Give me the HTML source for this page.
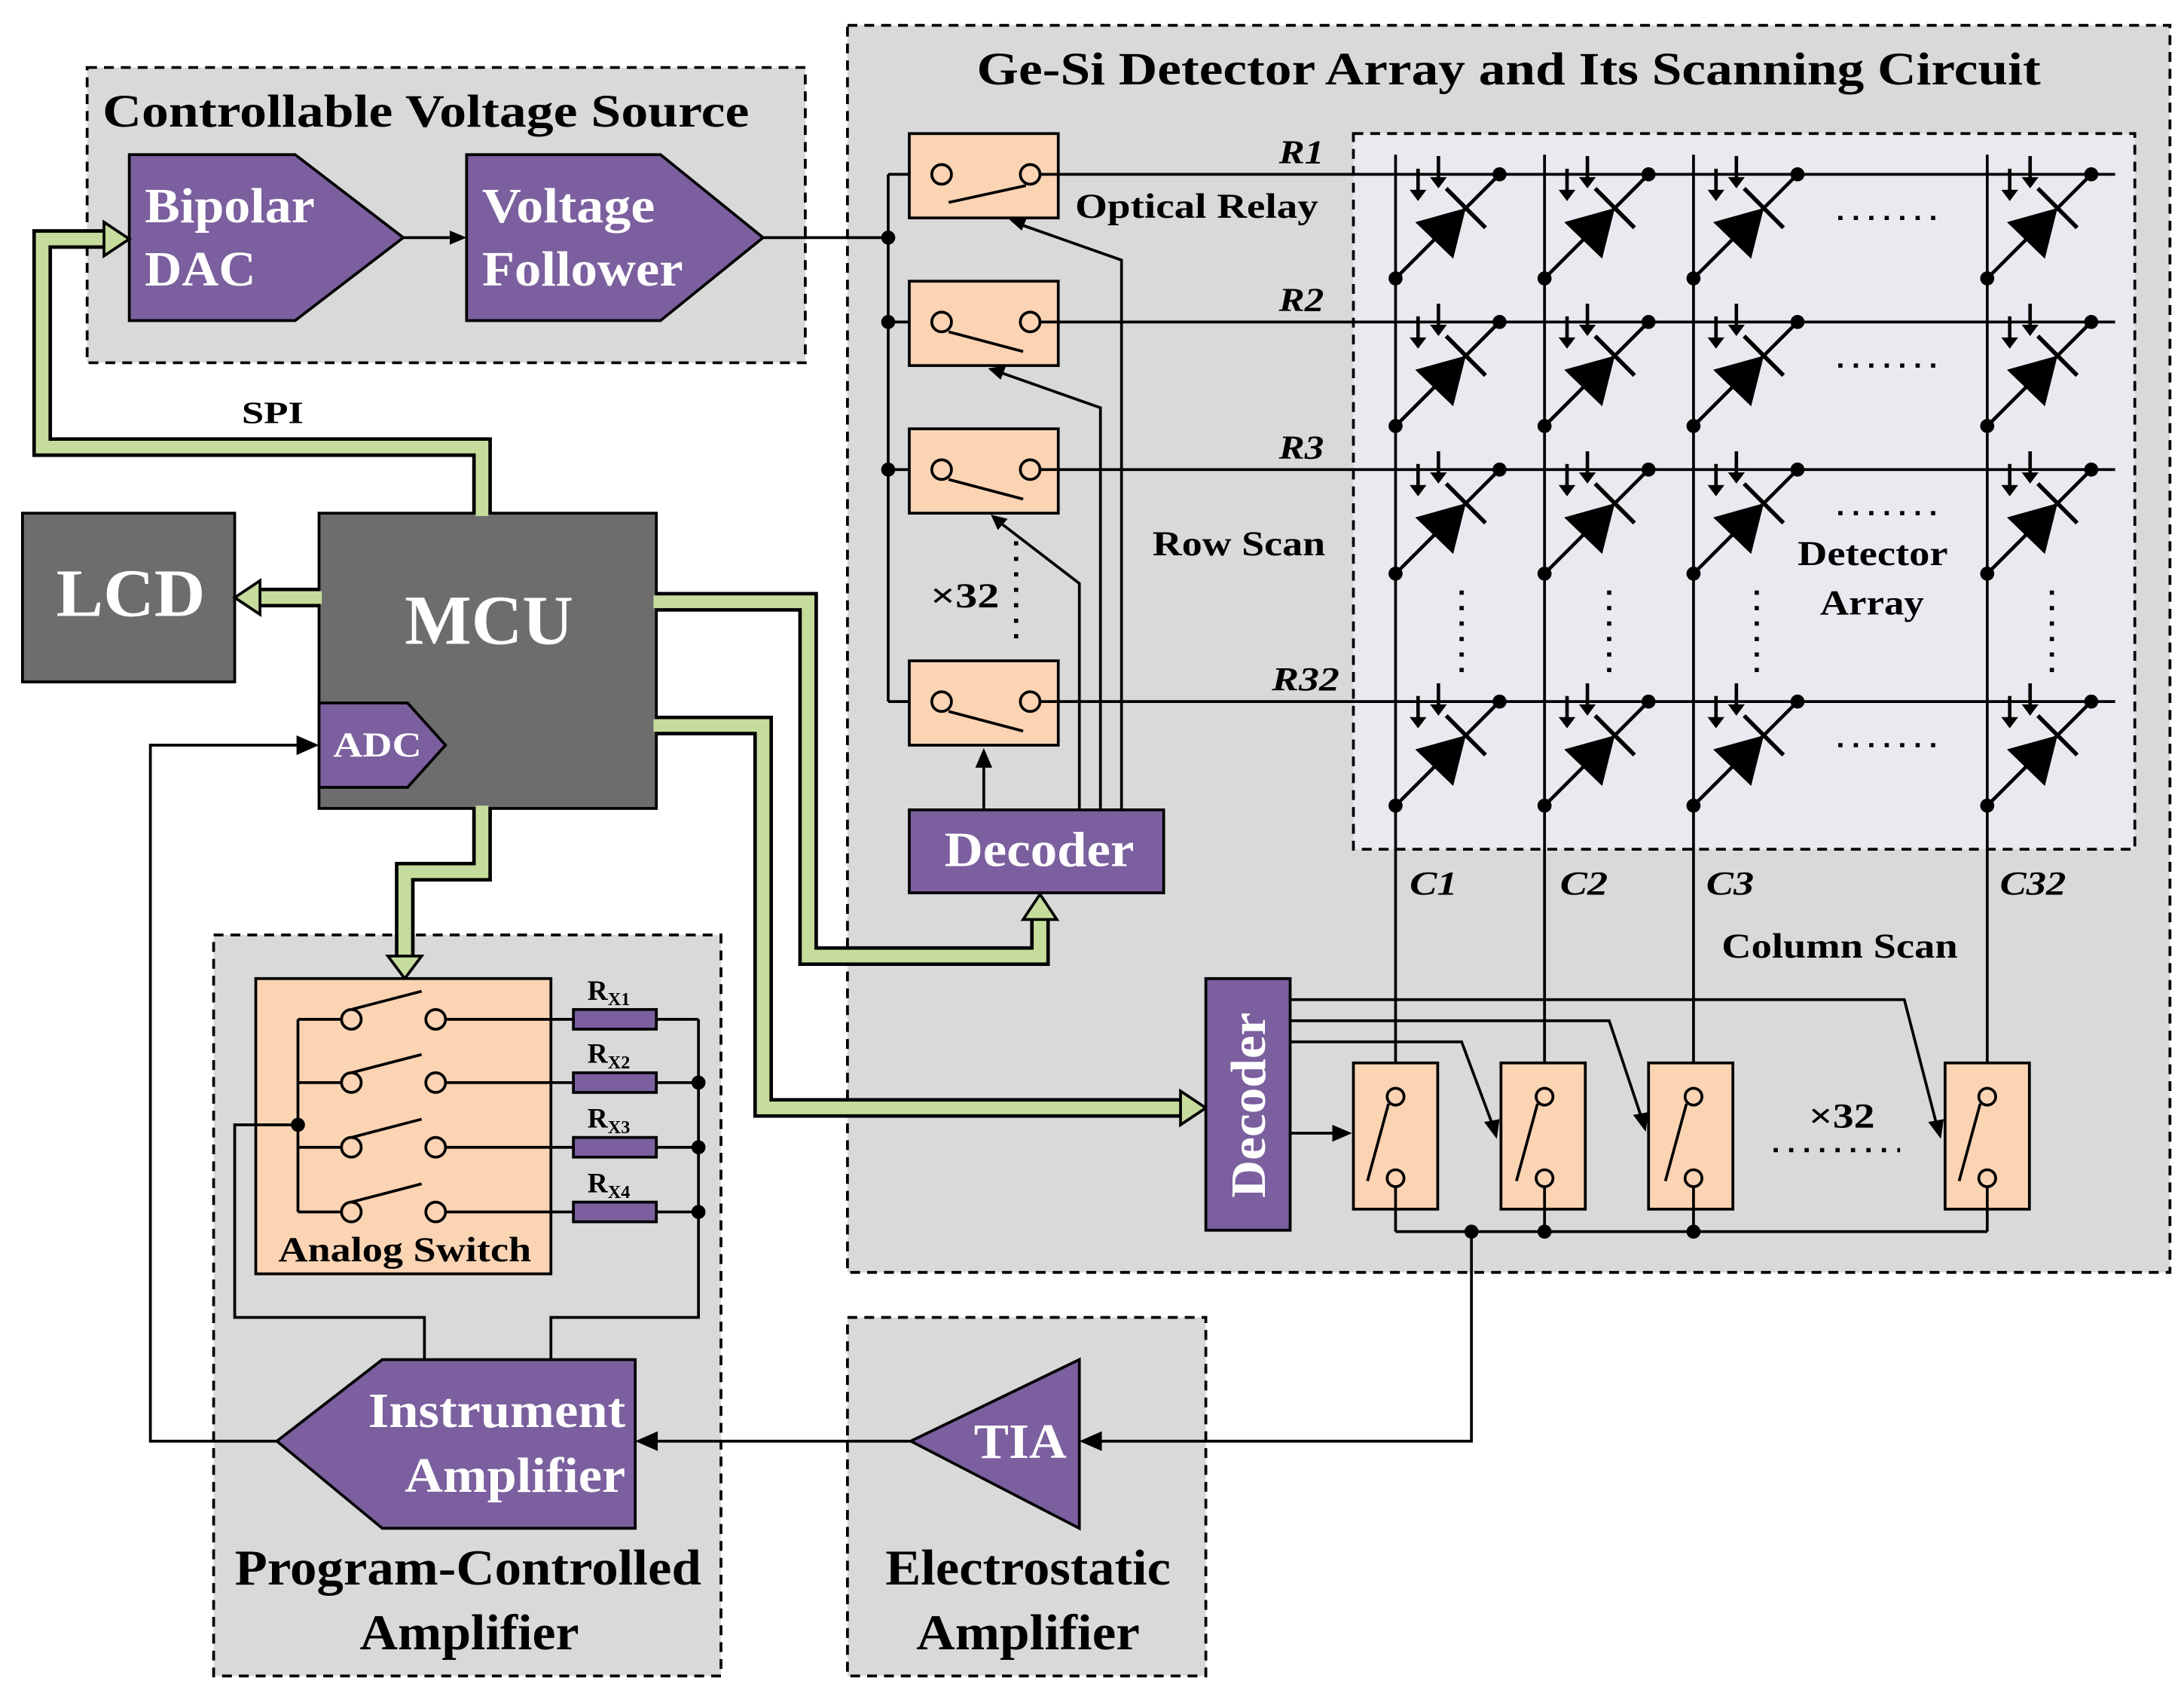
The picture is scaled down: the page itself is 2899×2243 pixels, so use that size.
<!DOCTYPE html>
<html><head><meta charset="utf-8"><style>
html,body{margin:0;padding:0;background:#fff}
svg{display:block}
text{font-family:"Liberation Serif",serif;font-weight:bold}
</style></head><body>
<svg width="2899" height="2243" viewBox="0 0 1554 1202" preserveAspectRatio="none" xmlns="http://www.w3.org/2000/svg">
<defs>
<g id="dio">
 <line x1="0" y1="74" x2="74" y2="0" stroke="#000" stroke-width="2.5"/>
 <circle cx="0" cy="74" r="5"/><circle cx="74" cy="0" r="5"/>
 <polygon points="14,34 50,24 41,60"/>
 <line x1="36" y1="10" x2="64" y2="38" stroke="#000" stroke-width="3"/>
</g>
<g id="arr2">
 <line x1="16" y1="-4" x2="16" y2="12" stroke="#000" stroke-width="2.5"/>
 <polygon points="10,11 22,11 16,19"/>
 <line x1="30.5" y1="-13" x2="30.5" y2="3" stroke="#000" stroke-width="2.5"/>
 <polygon points="24.5,2 36.5,2 30.5,10"/>
</g>
</defs>
<rect width="1554" height="1202" fill="#fff"/>

<rect x="62" y="48" width="511" height="210" fill="#d9d9d9" stroke="#000" stroke-width="2" stroke-dasharray="7,5"/>
<text x="73" y="90" font-size="33" textLength="460" lengthAdjust="spacingAndGlyphs">Controllable Voltage Source</text>
<rect x="603" y="18" width="941" height="887" fill="#d9d9d9" stroke="#000" stroke-width="2" stroke-dasharray="7,5"/>
<text x="695" y="60" font-size="33" textLength="757" lengthAdjust="spacingAndGlyphs">Ge-Si Detector Array and Its Scanning Circuit</text>
<rect x="963" y="95" width="556" height="509" fill="#ebe9f0" stroke="#000" stroke-width="2" stroke-dasharray="7,5"/>
<rect x="152" y="665" width="361" height="527" fill="#d9d9d9" stroke="#000" stroke-width="2" stroke-dasharray="7,5"/>
<rect x="603" y="937" width="255" height="255" fill="#d9d9d9" stroke="#000" stroke-width="2" stroke-dasharray="7,5"/>
<text x="167" y="1127" font-size="36" textLength="332" lengthAdjust="spacingAndGlyphs">Program-Controlled</text>
<text x="256" y="1173" font-size="36" textLength="156" lengthAdjust="spacingAndGlyphs">Amplifier</text>
<text x="630" y="1127" font-size="36" textLength="203" lengthAdjust="spacingAndGlyphs">Electrostatic</text>
<text x="652" y="1173" font-size="36" textLength="159" lengthAdjust="spacingAndGlyphs">Amplifier</text>

<polygon points="92,110 210,110 287,169 210,228 92,228" fill="#7b5f9e" stroke="#000" stroke-width="2"/>
<text x="103" y="158" font-size="35" fill="#fff" textLength="121" lengthAdjust="spacingAndGlyphs">Bipolar</text>
<text x="103" y="203" font-size="35" fill="#fff" textLength="79" lengthAdjust="spacingAndGlyphs">DAC</text>
<line x1="287" y1="169" x2="322" y2="169" stroke="#000" stroke-width="2"/>
<polygon points="332,169 320,164 320,174"/>
<polygon points="332,110 470,110 543,169 470,228 332,228" fill="#7b5f9e" stroke="#000" stroke-width="2"/>
<text x="343" y="158" font-size="35" fill="#fff" textLength="123" lengthAdjust="spacingAndGlyphs">Voltage</text>
<text x="343" y="203" font-size="35" fill="#fff" textLength="143" lengthAdjust="spacingAndGlyphs">Follower</text>
<line x1="543" y1="169" x2="632" y2="169" stroke="#000" stroke-width="2"/>

<rect x="16" y="365" width="151" height="120" fill="#6d6d6d" stroke="#000" stroke-width="2"/>
<text x="40" y="438" font-size="48" fill="#fff" textLength="106" lengthAdjust="spacingAndGlyphs">LCD</text>
<rect x="227" y="365" width="240" height="210" fill="#6d6d6d" stroke="#000" stroke-width="2"/>
<text x="288" y="458" font-size="50" fill="#fff" textLength="120" lengthAdjust="spacingAndGlyphs">MCU</text>
<polygon points="227,500 290,500 317,530 290,560 227,560" fill="#7b5f9e" stroke="#000" stroke-width="2"/>
<text x="237" y="538" font-size="25" fill="#fff" textLength="63" lengthAdjust="spacingAndGlyphs">ADC</text>

<g fill="none" stroke-linejoin="miter">
<g stroke="#000" stroke-width="14">
 <path d="M343,365 V318 H30 V170 H75"/>
 <path d="M227,425 H185"/>
 <path d="M467,428 H575 V680 H740 V653"/>
 <path d="M467,516 H543 V788 H840"/>
 <path d="M343,575 V620 H288 V680"/>
</g>
<g stroke="#c5dc9c" stroke-width="9">
 <path d="M343,367 V318 H30 V170 H77"/>
 <path d="M229,425 H183"/>
 <path d="M465,428 H575 V680 H740 V651"/>
 <path d="M465,516 H543 V788 H842"/>
 <path d="M343,573 V620 H288 V682"/>
</g>
</g>
<g fill="#c5dc9c" stroke="#000" stroke-width="2">
 <polygon points="74,158 92,170 74,182"/>
 <polygon points="185,413 167,425 185,437"/>
 <polygon points="728,654 740,636 752,654"/>
 <polygon points="840,776 858,788 840,800"/>
 <polygon points="276,680 288,696 300,680"/>
</g>
<text x="172" y="301" font-size="22" textLength="44" lengthAdjust="spacingAndGlyphs">SPI</text>

<g stroke="#000" stroke-width="2">
<line x1="632" y1="124" x2="632" y2="499"/>
<line x1="632" y1="124" x2="660" y2="124"/>
<line x1="632" y1="229" x2="660" y2="229"/>
<line x1="632" y1="334" x2="660" y2="334"/>
<line x1="632" y1="499" x2="660" y2="499"/>
</g>
<g fill="#fbd4b4" stroke="#000" stroke-width="2">
<rect x="647" y="95" width="106" height="60"/>
<rect x="647" y="200" width="106" height="60"/>
<rect x="647" y="305" width="106" height="60"/>
<rect x="647" y="470" width="106" height="60"/>
</g>
<g fill="#fbd4b4" stroke="#000" stroke-width="2">
<circle cx="670" cy="124" r="7"/><circle cx="733" cy="124" r="7"/><line x1="675" y1="144" x2="730" y2="132"/>
<circle cx="670" cy="229" r="7"/><circle cx="733" cy="229" r="7"/><line x1="675" y1="236" x2="728" y2="250"/>
<circle cx="670" cy="334" r="7"/><circle cx="733" cy="334" r="7"/><line x1="675" y1="341" x2="728" y2="355"/>
<circle cx="670" cy="499" r="7"/><circle cx="733" cy="499" r="7"/><line x1="675" y1="506" x2="728" y2="520"/>
</g>
<g fill="#000"><circle cx="632" cy="169" r="5"/><circle cx="632" cy="229" r="5"/><circle cx="632" cy="334" r="5"/></g>
<text x="765" y="155" font-size="25" textLength="173" lengthAdjust="spacingAndGlyphs">Optical Relay</text>
<text x="820" y="395" font-size="25" textLength="123" lengthAdjust="spacingAndGlyphs">Row Scan</text>
<text x="662" y="432" font-size="25" textLength="49" lengthAdjust="spacingAndGlyphs">×32</text>
<line x1="723" y1="385" x2="723" y2="460" stroke="#000" stroke-width="3" stroke-dasharray="3,8"/>
<rect x="647" y="576" width="181" height="59" fill="#7b5f9e" stroke="#000" stroke-width="2"/>
<text x="672" y="616" font-size="35" fill="#fff" textLength="135" lengthAdjust="spacingAndGlyphs">Decoder</text>
<g stroke="#000" stroke-width="2" fill="none">
<line x1="700" y1="576" x2="700" y2="545"/>
<path d="M768,576 V415 L712,372"/>
<path d="M783,576 V290 L712,265"/>
<path d="M798,576 V185 L727,160"/>
</g>
<g fill="#000">
<polygon points="694,546 706,546 700,532"/>
<polygon points="705,366 717,369 710,377"/>
<polygon points="703,262 716,260 712,270"/>
<polygon points="718,156 731,154 727,164"/>
</g>

<g stroke="#000" stroke-width="2">
<line x1="740" y1="124" x2="1505" y2="124"/>
<line x1="740" y1="229" x2="1505" y2="229"/>
<line x1="740" y1="334" x2="1505" y2="334"/>
<line x1="740" y1="499" x2="1505" y2="499"/>
<line x1="993" y1="110" x2="993" y2="780"/>
<line x1="1099" y1="110" x2="1099" y2="780"/>
<line x1="1205" y1="110" x2="1205" y2="780"/>
<line x1="1414" y1="110" x2="1414" y2="780"/>
</g>
<g font-size="24" font-style="italic">
<text x="910" y="116" textLength="32" lengthAdjust="spacingAndGlyphs">R1</text><text x="910" y="221" textLength="32" lengthAdjust="spacingAndGlyphs">R2</text><text x="910" y="326" textLength="32" lengthAdjust="spacingAndGlyphs">R3</text><text x="905" y="491" textLength="48" lengthAdjust="spacingAndGlyphs">R32</text>
<text x="1003" y="636" textLength="34" lengthAdjust="spacingAndGlyphs">C1</text><text x="1110" y="636" textLength="34" lengthAdjust="spacingAndGlyphs">C2</text><text x="1214" y="636" textLength="34" lengthAdjust="spacingAndGlyphs">C3</text><text x="1423" y="636" textLength="47" lengthAdjust="spacingAndGlyphs">C32</text>
</g>
<g>
<use href="#dio" x="993" y="124"/><use href="#dio" x="1099" y="124"/><use href="#dio" x="1205" y="124"/><use href="#dio" x="1414" y="124"/>
<use href="#dio" x="993" y="229"/><use href="#dio" x="1099" y="229"/><use href="#dio" x="1205" y="229"/><use href="#dio" x="1414" y="229"/>
<use href="#dio" x="993" y="334"/><use href="#dio" x="1099" y="334"/><use href="#dio" x="1205" y="334"/><use href="#dio" x="1414" y="334"/>
<use href="#dio" x="993" y="499"/><use href="#dio" x="1099" y="499"/><use href="#dio" x="1205" y="499"/><use href="#dio" x="1414" y="499"/>
</g>
<g>
<use href="#arr2" x="993" y="124"/><use href="#arr2" x="1099" y="124"/><use href="#arr2" x="1205" y="124"/><use href="#arr2" x="1414" y="124"/>
<use href="#arr2" x="993" y="229"/><use href="#arr2" x="1099" y="229"/><use href="#arr2" x="1205" y="229"/><use href="#arr2" x="1414" y="229"/>
<use href="#arr2" x="993" y="334"/><use href="#arr2" x="1099" y="334"/><use href="#arr2" x="1205" y="334"/><use href="#arr2" x="1414" y="334"/>
<use href="#arr2" x="993" y="499"/><use href="#arr2" x="1099" y="499"/><use href="#arr2" x="1205" y="499"/><use href="#arr2" x="1414" y="499"/>
</g>
<g stroke="#000" stroke-width="3" stroke-dasharray="3,8">
<line x1="1308" y1="155" x2="1385" y2="155"/>
<line x1="1308" y1="260" x2="1385" y2="260"/>
<line x1="1308" y1="365" x2="1385" y2="365"/>
<line x1="1308" y1="530" x2="1385" y2="530"/>
<line x1="1040" y1="420" x2="1040" y2="485"/>
<line x1="1145" y1="420" x2="1145" y2="485"/>
<line x1="1250" y1="420" x2="1250" y2="485"/>
<line x1="1460" y1="420" x2="1460" y2="485"/>
<line x1="1262" y1="818" x2="1352" y2="818"/>
</g>
<text x="1279" y="402" font-size="25" textLength="107" lengthAdjust="spacingAndGlyphs">Detector</text>
<text x="1295" y="437" font-size="25" textLength="74" lengthAdjust="spacingAndGlyphs">Array</text>
<text x="1225" y="681" font-size="25" textLength="168" lengthAdjust="spacingAndGlyphs">Column Scan</text>

<rect x="858" y="696" width="60" height="179" fill="#7b5f9e" stroke="#000" stroke-width="2"/>
<text transform="translate(900,852) rotate(-90)" font-size="35" fill="#fff" textLength="132" lengthAdjust="spacingAndGlyphs">Decoder</text>
<g stroke="#000" stroke-width="2" fill="none">
<path d="M918,711 H1355 L1378,800"/>
<path d="M918,726 H1145 L1168,795"/>
<path d="M918,741 H1040 L1062,800"/>
<line x1="918" y1="806" x2="950" y2="806"/>
</g>
<g fill="#000">
<polygon points="1372,798 1383,796 1381,810"/>
<polygon points="1162,793 1173,791 1171,805"/>
<polygon points="1056,798 1067,796 1065,810"/>
<polygon points="948,800 948,812 962,806"/>
</g>
<g fill="#fbd4b4" stroke="#000" stroke-width="2">
<rect x="963" y="756" width="60" height="104"/>
<rect x="1068" y="756" width="60" height="104"/>
<rect x="1173" y="756" width="60" height="104"/>
<rect x="1384" y="756" width="60" height="104"/>
<circle cx="993" cy="780" r="6"/><circle cx="993" cy="838" r="6"/><line x1="973" y1="840" x2="988" y2="785"/>
<circle cx="1099" cy="780" r="6"/><circle cx="1099" cy="838" r="6"/><line x1="1079" y1="840" x2="1094" y2="785"/>
<circle cx="1205" cy="780" r="6"/><circle cx="1205" cy="838" r="6"/><line x1="1185" y1="840" x2="1200" y2="785"/>
<circle cx="1414" cy="780" r="6"/><circle cx="1414" cy="838" r="6"/><line x1="1394" y1="840" x2="1409" y2="785"/>
</g>
<text x="1287" y="802" font-size="25" textLength="47" lengthAdjust="spacingAndGlyphs">×32</text>
<g stroke="#000" stroke-width="2" fill="none">
<line x1="993" y1="844" x2="993" y2="876"/><line x1="1099" y1="844" x2="1099" y2="876"/>
<line x1="1205" y1="844" x2="1205" y2="876"/><line x1="1414" y1="844" x2="1414" y2="876"/>
<line x1="993" y1="876" x2="1414" y2="876"/>
<path d="M1047,876 V1025 H782"/>
</g>
<g fill="#000"><circle cx="1047" cy="876" r="5"/><circle cx="1099" cy="876" r="5"/><circle cx="1205" cy="876" r="5"/>
<polygon points="768,1025 784,1018 784,1032"/></g>

<polygon points="648,1025 768,967 768,1087" fill="#7b5f9e" stroke="#000" stroke-width="2"/>
<text x="693" y="1037" font-size="35" fill="#fff" textLength="66" lengthAdjust="spacingAndGlyphs">TIA</text>
<line x1="648" y1="1025" x2="466" y2="1025" stroke="#000" stroke-width="2"/>
<polygon points="452,1025 468,1018 468,1032"/>

<polygon points="197,1025 272,967 452,967 452,1087 272,1087" fill="#7b5f9e" stroke="#000" stroke-width="2"/>
<text x="262" y="1015" font-size="35" fill="#fff" textLength="183" lengthAdjust="spacingAndGlyphs">Instrument</text>
<text x="288" y="1061" font-size="35" fill="#fff" textLength="157" lengthAdjust="spacingAndGlyphs">Amplifier</text>
<path d="M197,1025 H107 V530 H213" fill="none" stroke="#000" stroke-width="2"/>
<polygon points="227,530 211,523 211,537"/>

<rect x="182" y="696" width="210" height="210" fill="#fbd4b4" stroke="#000" stroke-width="2"/>
<text x="198" y="897" font-size="25" textLength="180" lengthAdjust="spacingAndGlyphs">Analog Switch</text>
<g stroke="#000" stroke-width="2" fill="none">
<line x1="212" y1="725" x2="212" y2="862"/>
<path d="M212,800 H167 V937 H302 V967"/>
<path d="M497,725 V937 H392 V967"/>
<line x1="212" y1="725" x2="243" y2="725"/><line x1="212" y1="770" x2="243" y2="770"/>
<line x1="212" y1="816" x2="243" y2="816"/><line x1="212" y1="862" x2="243" y2="862"/>
<line x1="317" y1="725" x2="497" y2="725"/><line x1="317" y1="770" x2="497" y2="770"/>
<line x1="317" y1="816" x2="497" y2="816"/><line x1="317" y1="862" x2="497" y2="862"/>
<line x1="250" y1="718" x2="300" y2="705"/><line x1="250" y1="763" x2="300" y2="750"/>
<line x1="250" y1="809" x2="300" y2="796"/><line x1="250" y1="855" x2="300" y2="842"/>
</g>
<g fill="#fbd4b4" stroke="#000" stroke-width="2">
<circle cx="250" cy="725" r="7"/><circle cx="310" cy="725" r="7"/>
<circle cx="250" cy="770" r="7"/><circle cx="310" cy="770" r="7"/>
<circle cx="250" cy="816" r="7"/><circle cx="310" cy="816" r="7"/>
<circle cx="250" cy="862" r="7"/><circle cx="310" cy="862" r="7"/>
</g>
<g fill="#7b5f9e" stroke="#000" stroke-width="2">
<rect x="408" y="718" width="59" height="14"/><rect x="408" y="763" width="59" height="14"/>
<rect x="408" y="809" width="59" height="14"/><rect x="408" y="855" width="59" height="14"/>
</g>
<g font-size="20">
<text x="418" y="711">R<tspan font-size="13" dy="4">X1</tspan></text>
<text x="418" y="756">R<tspan font-size="13" dy="4">X2</tspan></text>
<text x="418" y="802">R<tspan font-size="13" dy="4">X3</tspan></text>
<text x="418" y="848">R<tspan font-size="13" dy="4">X4</tspan></text>
</g>
<g fill="#000"><circle cx="212" cy="800" r="5"/><circle cx="497" cy="770" r="5"/><circle cx="497" cy="816" r="5"/><circle cx="497" cy="862" r="5"/></g>
</svg>
</body></html>
